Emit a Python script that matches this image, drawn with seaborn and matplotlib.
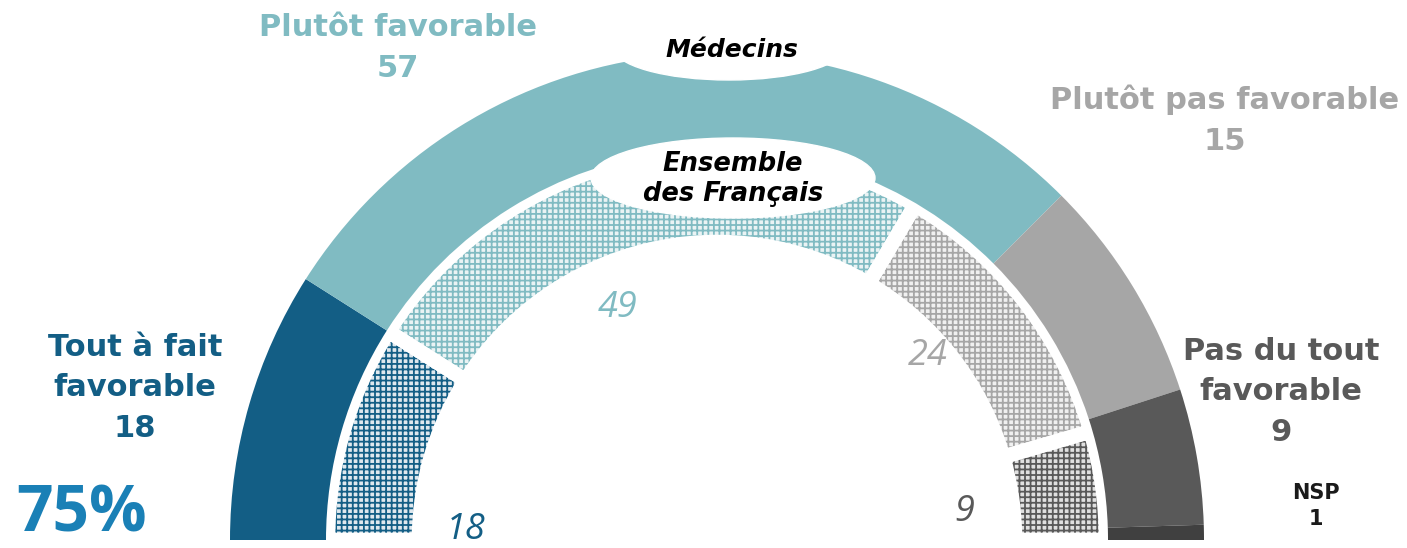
import matplotlib
matplotlib.use("Agg")
import matplotlib.pyplot as plt
from matplotlib.patches import Ellipse
import seaborn as sns

# data
outer_labels = ["Tout à fait favorable", "Plutôt favorable", "Plutôt pas favorable",
                "Pas du tout favorable", "NSP"]
medecins = [18, 57, 15, 9, 1]
francais = [18, 49, 24, 9]
total_favorable = 75

outer_colors = ["#135e85", "#80bbc2", "#a6a6a6", "#595959", "#404040"]
inner_colors = ["#135e85", "#80bbc2", "#a6a6a6", "#595959"]
inner_tints = ["#dfe8ee", "#eaf3f4", "#f0f0f0", "#e0e0e0"]

sns.set_theme(style="white")
plt.rcParams["hatch.linewidth"] = 1.3

W, H = 1407, 548
CX, CY, R = 717, 540, 487  # pixel centre and outer radius


def px(x, y):
    """pixel position -> data coords"""
    return (x - CX) / R, (CY - y) / R


fig = plt.figure(figsize=(W / 100, H / 100), dpi=100)
ax = fig.add_axes([0, 0, 1, 1])

# outer ring: Médecins
wedges, _ = ax.pie(medecins + [sum(medecins)], radius=1.0, startangle=180, counterclock=False,
                   colors=outer_colors + ["white"],
                   wedgeprops=dict(width=96 / R, linewidth=0, zorder=3))
wedges[-1].set_visible(False)

# inner ring: Ensemble des Français (hatched, white separators)
gap = 10.5  # pt
r_in = 389 / R
w_in = 91 / R
wedges, _ = ax.pie(francais + [sum(francais)], radius=r_in, startangle=180, counterclock=False,
                   colors=inner_tints + ["white"],
                   wedgeprops=dict(width=w_in, linewidth=0, zorder=1))
for w, c in zip(wedges, inner_colors):
    w.set_hatch("+++")
    w.set_edgecolor(c)
wedges[-1].set_visible(False)
seps, _ = ax.pie(francais + [sum(francais)], radius=r_in, startangle=180, counterclock=False,
                 colors=["none"] * 5,
                 wedgeprops=dict(width=w_in, linewidth=gap, edgecolor="white", zorder=2))
seps[-1].set_visible(False)

# white label bubbles
ax.add_patch(Ellipse(px(729, 47), 232 / R, 66 / R, color="white", zorder=4))
ax.add_patch(Ellipse(px(733, 178), 284 / R, 80 / R, color="white", zorder=4))
ital_b = dict(ha="center", va="center", style="italic", fontweight="bold",
              family="DejaVu Sans", color="black", zorder=5)
ax.text(*px(732, 50), "Médecins", fontsize=18, **ital_b)
ax.text(*px(733, 179), "Ensemble\ndes Français", fontsize=18.5, linespacing=1.2, **ital_b)

# outer labels
bold = dict(ha="center", va="center", fontweight="bold", family="DejaVu Sans", fontsize=22,
            linespacing=1.5)
ax.text(*px(398, 48), f"{outer_labels[1]}\n{medecins[1]}", color=outer_colors[1], **bold)
ax.text(*px(1225, 120), f"{outer_labels[2]}\n{medecins[2]}", color=outer_colors[2], **bold)
ax.text(*px(135, 388), "Tout à fait\nfavorable\n" + str(medecins[0]), color=outer_colors[0],
        **bold)
ax.text(*px(1281, 392), "Pas du tout\nfavorable\n" + str(medecins[3]), color=outer_colors[3],
        **bold)
ax.text(*px(1316, 506), f"{outer_labels[4]}\n{medecins[4]}", color="#1a1a1a", ha="center",
        va="center", fontweight="bold", family="DejaVu Sans", fontsize=15, linespacing=1.35)

# inner values
ital = dict(ha="center", va="center", style="italic", family="Open Sans", fontsize=26)
inner_pos = [(466, 530), (618, 308), (928, 356), (964, 512)]
for v, (x, y), c in zip(francais, inner_pos, inner_colors):
    ax.text(*px(x, y), str(v), color=c, **ital)

ax.text(*px(82, 547), f"{total_favorable}%", ha="center", va="bottom", color="#1a80b6",
        fontsize=46, fontweight="bold", family="Open Sans")

ax.set_xlim(-CX / R, (W - CX) / R)
ax.set_ylim(-(H - CY) / R, CY / R)
ax.set_aspect("auto")
ax.axis("off")

fig.savefig("out.png", dpi=100)
